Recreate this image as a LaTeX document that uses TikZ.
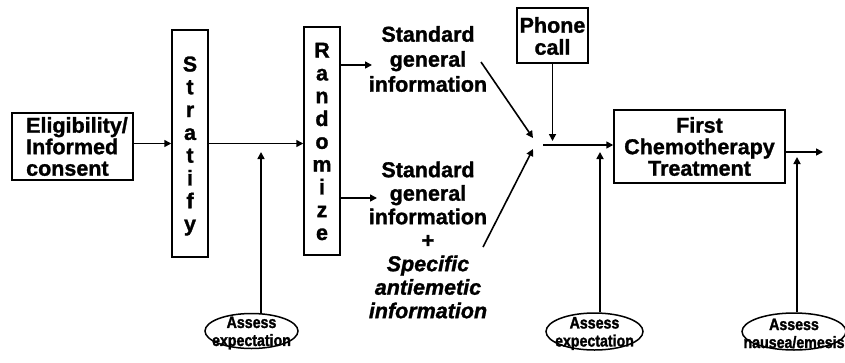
\documentclass[tikz,border=0pt]{standalone}
\usepackage{fontspec}
\setmainfont{Liberation Sans}[BoldFeatures={FakeBold=1.3},BoldItalicFeatures={FakeBold=1.3}]
\newfontfamily\ellfont{Liberation Sans}[BoldFeatures={FakeStretch=0.86,FakeBold=1.6}]
\usetikzlibrary{arrows.meta,shapes.geometric,calc}
\begin{document}
\begin{tikzpicture}[x=1pt,y=-1pt,
  box/.style={draw, line width=1.5pt, inner sep=0pt},
  lbl/.style={font=\fontsize{21.5}{23.5}\selectfont\bfseries, align=center, inner sep=0pt},
  vlbl/.style={font=\fontsize{21.5}{22.8}\selectfont\bfseries, align=center, inner sep=0pt},
  ell/.style={draw, ellipse, line width=1.5pt, inner sep=0pt},
  elltext/.style={font=\ellfont\fontsize{16.5}{18}\selectfont\bfseries, align=center, inner sep=0pt},
  arr/.style={line width=1.6pt, -{Triangle[length=7pt,width=7pt]}},
  ln/.style={line width=1.6pt}]
\useasboundingbox (0,0) rectangle (845,362);

% boxes
\node[box, minimum width=121pt, minimum height=67pt] (elig) at (72.5,146.5) {};
\node[lbl, anchor=west, align=left, font=\fontsize{21.5}{21.5}\selectfont\bfseries] (eligt) at (26,146.5) {Eligibility/\\Informed\\consent};

\node[box, minimum width=36pt, minimum height=227pt] (strat) at (190,143.5) {};
\node[vlbl] (stratt) at (190,146) {S\\t\\r\\a\\t\\i\\f\\y};

\node[box, minimum width=36pt, minimum height=228pt] (rand) at (322,141) {};
\node[vlbl] (randt) at (322,141.5) {R\\a\\n\\d\\o\\m\\i\\z\\e};

\node[box, minimum width=71pt, minimum height=55pt] (phone) at (552.5,35.5) {};
\node[lbl, font=\fontsize{21.5}{22}\selectfont\bfseries] (phonet) at (552.5,36) {Phone\\call};

\node[box, minimum width=171pt, minimum height=73pt] (chemo) at (699.5,146.5) {};
\node[lbl, font=\fontsize{21.5}{21.5}\selectfont\bfseries] (chemot) at (699.5,146.5) {First\\Chemotherapy\\Treatment};

% free texts
\node[lbl, font=\fontsize{21.5}{25}\selectfont\bfseries] (t1) at (428,59) {Standard\\general\\information};
\node[lbl] (t2) at (428,240) {Standard\\general\\information\\+\\\textit{Specific}\\\textit{antiemetic}\\\textit{information}};

% ellipses
\node[ell, minimum width=93pt, minimum height=35pt] (e1) at (251.5,331) {};
\node[elltext] (e1t) at ($(e1)+(0,2)$) {Assess\\expectation};
\node[ell, minimum width=97pt, minimum height=37pt] (e2) at (594.5,331.5) {};
\node[elltext] (e2t) at ($(e2)+(0,2)$) {Assess\\expectation};
\node[ell, minimum width=104pt, minimum height=37pt] (e3) at (794,331.5) {};
\node[elltext] (e3t) at ($(e3)+(0,2)$) {Assess\\nausea/emesis};

% coordinates
\coordinate (a1) at (261,152);
\coordinate (r1) at (372,65);
\coordinate (r2) at (377,198);
\coordinate (d1) at (481,62);
\coordinate (d2) at (483,247);
\coordinate (j1) at (533,138);
\coordinate (j2) at (533,149);
\coordinate (j0) at (543,145);
\coordinate (pa) at (552.5,141);
\coordinate (a2) at (600,152);
\coordinate (out) at (823,152);
\coordinate (a3) at (797,157);

% connectors
\draw[arr] (elig.east |- strat.west) -- (strat.west);
\draw[arr] (strat.east) -- (strat.east -| rand.west);
\draw[arr] (e1.north -| a1) -- (a1);
\draw[arr] (rand.east |- r1) -- (r1);
\draw[arr] (rand.east |- r2) -- (r2);
\draw[arr] (d1) -- (j1);
\draw[arr] (d2) -- (j2);
\draw[arr] (phone.south) -- (pa);
\draw[arr] (j0) -- (j0 -| chemo.west);
\draw[arr] (e2.north -| a2) -- (a2);
\draw[arr] (chemo.east |- out) -- (out);
\draw[arr] (e3.north -| a3) -- (a3);
\end{tikzpicture}
\end{document}
